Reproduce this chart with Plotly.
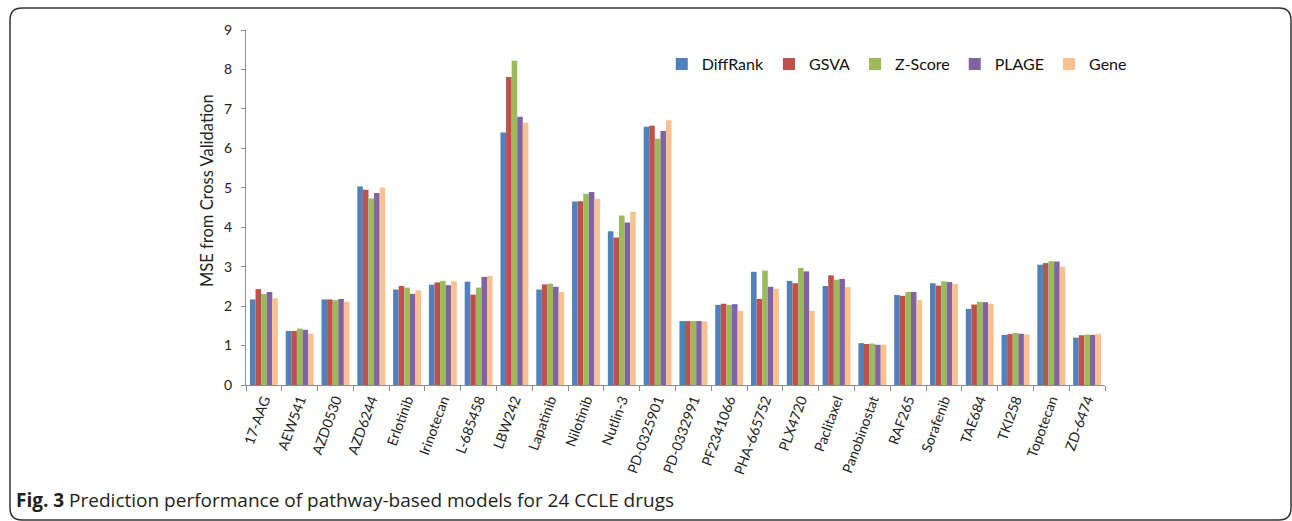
import plotly.graph_objects as go

drugs = ["17-AAG", "AEW541", "AZD0530", "AZD6244", "Erlotinib", "Irinotecan",
         "L-685458", "LBW242", "Lapatinib", "Nilotinib", "Nutlin-3", "PD-0325901",
         "PD-0332991", "PF2341066", "PHA-665752", "PLX4720", "Paclitaxel",
         "Panobinostat", "RAF265", "Sorafenib", "TAE684", "TKI258", "Topotecan",
         "ZD-6474"]

diffrank = [2.17, 1.37, 2.17, 5.03, 2.42, 2.54, 2.62, 6.40, 2.42, 4.65, 3.90, 6.55,
            1.62, 2.03, 2.87, 2.64, 2.51, 1.06, 2.28, 2.58, 1.93, 1.27, 3.05, 1.20]
gsva = [2.43, 1.37, 2.17, 4.95, 2.51, 2.60, 2.29, 7.81, 2.55, 4.66, 3.74, 6.57,
        1.62, 2.06, 2.18, 2.58, 2.78, 1.04, 2.26, 2.52, 2.04, 1.29, 3.09, 1.26]
zscore = [2.31, 1.43, 2.15, 4.73, 2.47, 2.64, 2.47, 8.22, 2.57, 4.85, 4.30, 6.24,
          1.62, 2.03, 2.90, 2.97, 2.67, 1.05, 2.36, 2.63, 2.11, 1.32, 3.14, 1.28]
plage = [2.36, 1.40, 2.18, 4.87, 2.31, 2.53, 2.74, 6.80, 2.49, 4.89, 4.12, 6.44,
         1.62, 2.05, 2.49, 2.88, 2.69, 1.02, 2.36, 2.61, 2.10, 1.30, 3.13, 1.27]
gene = [2.20, 1.30, 2.11, 5.01, 2.40, 2.63, 2.77, 6.65, 2.36, 4.72, 4.39, 6.71,
        1.61, 1.88, 2.44, 1.88, 2.48, 1.02, 2.15, 2.56, 2.06, 1.28, 3.00, 1.29]

series = [
    ("DiffRank", diffrank, "#4F81BD"),
    ("GSVA", gsva, "#C0504D"),
    ("Z-Score", zscore, "#9BBB59"),
    ("PLAGE", plage, "#8064A2"),
    ("Gene", gene, "#FAC090"),
]

FONT = "Lato, 'Open Sans', sans-serif"
TEXT = "#222222"
AXIS = "#8C8C8C"

fig = go.Figure()
for name, vals, color in series:
    fig.add_trace(go.Bar(name=name, x=drugs, y=vals,
                         marker=dict(color=color, line=dict(width=0))))

# plot area in pixels: x 246..1105, y 30..385
W, H = 1292, 521
L, R, T, B = 246, 187, 30, 136
pw, ph = W - L - R, H - T - B


def px(x):
    return (x - L) / pw


def py(y):
    return (H - B - y) / ph


# rounded frame around the figure
x0, x1, y0, y1, r = 10, 1291, 8, 520, 12
frame = (f"M{px(x0)},{py(y0 + r)} Q{px(x0)},{py(y0)} {px(x0 + r)},{py(y0)} "
         f"L{px(x1 - r)},{py(y0)} Q{px(x1)},{py(y0)} {px(x1)},{py(y0 + r)} "
         f"L{px(x1)},{py(y1 - r)} Q{px(x1)},{py(y1)} {px(x1 - r)},{py(y1)} "
         f"L{px(x0 + r)},{py(y1)} Q{px(x0)},{py(y1)} {px(x0)},{py(y1 - r)} Z")

fig.update_layout(
    width=W, height=H,
    margin=dict(l=L, r=R, t=T, b=B),
    paper_bgcolor="white", plot_bgcolor="white",
    barmode="group", bargap=0.22, bargroupgap=0,
    font=dict(family=FONT, color=TEXT, size=14),
    legend=dict(orientation="h", x=0.484, y=0.904, xanchor="left", yanchor="middle",
                font=dict(size=16, color="#111111"), bgcolor="rgba(0,0,0,0)",
                itemwidth=30, tracegroupgap=0),
    xaxis=dict(type="category", showline=True, linecolor=AXIS, linewidth=1.3,
               ticks="outside", tickson="boundaries", ticklen=5, tickcolor=AXIS,
               tickangle=-70, tickfont=dict(size=14, color=TEXT),
               showgrid=False, zeroline=False),
    yaxis=dict(range=[0, 9], dtick=1, showline=True, linecolor=AXIS, linewidth=1.3,
               ticks="outside", ticklen=4, tickcolor=AXIS, ticklabelstandoff=6,
               tickfont=dict(size=14, color=TEXT), showgrid=False, zeroline=False),
    shapes=[dict(type="path", xref="paper", yref="paper", path=frame,
                 line=dict(color="#333333", width=1.5), layer="above")],
    annotations=[
        dict(xref="paper", yref="paper", x=px(207), y=py(191), textangle=-90,
             xanchor="center", yanchor="middle", showarrow=False,
             text="MSE from Cross Validation",
             font=dict(size=16.5, color=TEXT, family=FONT)),
        dict(xref="paper", yref="paper", x=px(14), y=py(500),
             xanchor="left", yanchor="middle", showarrow=False,
             text="<b>Fig. 3</b> Prediction performance of pathway-based models for 24 CCLE drugs",
             font=dict(size=19, color="#231F20", family="'Open Sans', sans-serif")),
    ],
)

fig.write_html("out.html")
